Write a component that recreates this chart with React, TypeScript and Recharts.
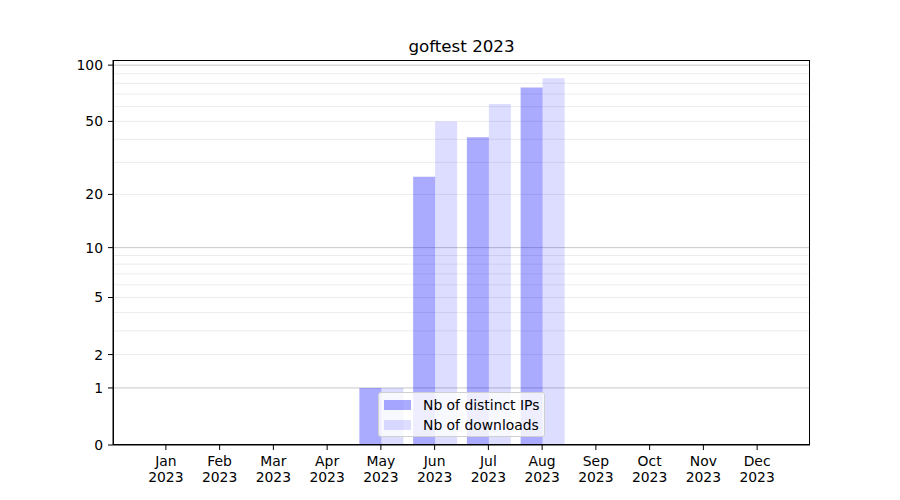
import { BarChart, Bar, XAxis, YAxis, CartesianGrid } from "recharts";

const months = ["Jan", "Feb", "Mar", "Apr", "May", "Jun", "Jul", "Aug", "Sep", "Oct", "Nov", "Dec"];
const year = "2023";
const distinctIps = [0, 0, 0, 0, 1, 25, 41, 76, 0, 0, 0, 0];
const downloads = [0, 0, 0, 0, 1, 50, 62, 85, 0, 0, 0, 0];
const yTicks = [0, 1, 2, 5, 10, 20, 50, 100];
const majorGrid = [1, 10, 100];
const minorGrid = [2, 3, 4, 5, 6, 7, 8, 9, 20, 30, 40, 50, 60, 70, 80, 90];

// y axis is log10(1 + v)
const tf = (v: number) => Math.log10(1 + v);
const yMax = tf(106.5);

const data = months.map((m, i) => ({
  month: m,
  ips: tf(distinctIps[i]),
  dl: tf(downloads[i]),
}));

const font = "DejaVu Sans, sans-serif";
const ipColor = "rgba(0,0,255,0.333)";
const dlColor = "rgba(0,0,255,0.135)";

function MonthTick(props: any) {
  const { x, y, payload } = props;
  return (
    <text x={x} y={y} textAnchor="middle" fontFamily={font} fontSize={13.9} fill="#000">
      <tspan x={x} dy={16}>{payload.value}</tspan>
      <tspan x={x} dy={15.5}>{year}</tspan>
    </text>
  );
}

function LegendBox() {
  const items = [
    { label: "Nb of distinct IPs", color: ipColor },
    { label: "Nb of downloads", color: dlColor },
  ];
  return (
    <div
      style={{
        position: "absolute",
        left: 378,
        top: 392,
        boxSizing: "border-box",
        width: 167,
        height: 45,
        background: "rgba(255,255,255,0.8)",
        border: "1px solid #d0d0d0",
        borderRadius: 3,
        padding: "2px 5px",
        fontFamily: font,
        fontSize: 13.9,
        lineHeight: "20px",
        whiteSpace: "nowrap",
      }}
    >
      {items.map((it) => (
        <div key={it.label} style={{ display: "flex", alignItems: "center" }}>
          <span style={{ display: "inline-block", flexShrink: 0, width: 27, height: 10, background: it.color, marginRight: 12 }} />
          <span>{it.label}</span>
        </div>
      ))}
    </div>
  );
}

export default function App() {
  return (
    <div style={{ position: "absolute", left: 0, top: 0, width: 900, height: 500, background: "#fff" }}>
      <div
        style={{
          position: "absolute",
          left: 113,
          width: 697,
          top: 36,
          textAlign: "center",
          fontFamily: font,
          fontSize: 16.7,
          lineHeight: "20px",
        }}
      >
        goftest {year}
      </div>
      <BarChart
        width={900}
        height={500}
        data={data}
        margin={{ top: 60, right: 90, left: 53, bottom: 15 }}
        barCategoryGap="10%"
        barGap={0}
      >
        <CartesianGrid vertical={false} horizontalValues={minorGrid.map(tf)} stroke="#ececec" strokeWidth={1} />
        <CartesianGrid vertical={false} horizontalValues={majorGrid.map(tf)} stroke="#c8c8c8" strokeWidth={1} />
        <XAxis
          dataKey="month"
          padding={{ left: 26, right: 26 }}
          height={40}
          tick={<MonthTick />}
          tickSize={5}
          tickMargin={0}
          axisLine={{ stroke: "#000" }}
          tickLine={{ stroke: "#000" }}
          interval={0}
        />
        <YAxis
          type="number"
          domain={[0, yMax]}
          ticks={yTicks.map(tf)}
          tickFormatter={(v: number) => String(Math.round(Math.pow(10, v) - 1))}
          width={60}
          tickSize={5}
          tickMargin={5}
          interval={0}
          allowDataOverflow
          tick={{ fill: "#000", fontSize: 13.9, fontFamily: font }}
          axisLine={{ stroke: "#000" }}
          tickLine={{ stroke: "#000" }}
        />
        <Bar dataKey="ips" name="Nb of distinct IPs" fill="#0000ff" fillOpacity={0.333} isAnimationActive={false} />
        <Bar dataKey="dl" name="Nb of downloads" fill="#0000ff" fillOpacity={0.135} isAnimationActive={false} />
      </BarChart>
      <div
        style={{
          position: "absolute",
          left: 113,
          top: 60,
          width: 697,
          height: 385,
          boxSizing: "border-box",
          border: "1px solid #000",
          pointerEvents: "none",
        }}
      />
      <LegendBox />
    </div>
  );
}
